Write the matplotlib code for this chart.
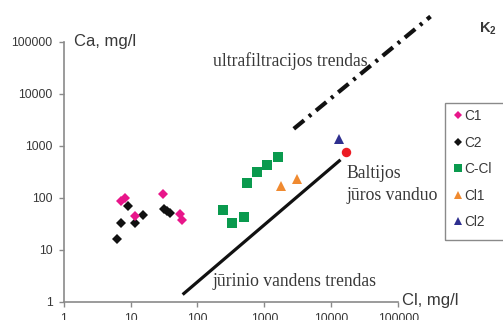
import numpy as np
import matplotlib
matplotlib.use('Agg')
import matplotlib.pyplot as plt
from matplotlib.lines import Line2D
from matplotlib.patches import Rectangle

W, H = 503, 320

# data (Cl, Ca in mg/l)
c1_cl = [7.3, 8.2, 11.6, 30.8, 55.7, 59.1]
c1_ca = [87, 99, 45, 118, 49, 37]
c2_cl = [6.3, 7.3, 9.1, 11.6, 15.5, 31.4, 35.0, 38.6]
c2_ca = [16, 33, 68, 33, 47, 61, 55, 50]
ccl_cl = [242, 322, 491, 552, 760, 1097, 1580]
ccl_ca = [58, 33, 42, 188, 307, 425, 596]
cl1_cl = [1775, 3078]
cl1_ca = [163, 222]
cl2_cl = [13030]
cl2_ca = [1345]
baltic_cl = [16180]
baltic_ca = [743]

marine_cl = [60, 13630]
marine_ca = [1.36, 531]
ultra_cl = [2736, 300600]
ultra_ca = [2095, 302700]

ticks = [1, 10, 100, 1000, 10000, 100000]
tick_labels = ['1', '10', '100', '1000', '10000', '100000']

C_PINK = '#e8168a'
C_BLACK = '#111111'
C_GREEN = '#0a9a4e'
C_ORANGE = '#f08a30'
C_NAVY = '#2e2f8f'
C_RED = '#ec1c24'
TXT = '#383838'
SANS = 'Liberation Sans'
SERIF = 'Liberation Serif'

# pixel layout of the reference
X0, XDEC = 63.5, 67.0
Y0, YDEC = 301.5, 52.0


def fp(x, y):
    return x / W, 1 - y / H


fig = plt.figure(figsize=(W / 100, H / 100), dpi=100)
ax = fig.add_axes([X0 / W, (H - Y0) / H, (W - X0) / W, Y0 / H])
ax.set_xscale('log')
ax.set_yscale('log')
ax.set_xlim(1, 10 ** ((W - X0) / XDEC))
ax.set_ylim(1, 10 ** (Y0 / YDEC))
ax.patch.set_alpha(0)

for s in ['top', 'right']:
    ax.spines[s].set_visible(False)
for s in ['left', 'bottom']:
    ax.spines[s].set_color('#8a8a8a')
    ax.spines[s].set_linewidth(1.2)
    ax.spines[s].set_bounds(1, 100000)

ax.set_xticks(ticks)
ax.set_xticklabels(tick_labels)
ax.set_yticks(ticks)
ax.set_yticklabels(tick_labels)
ax.minorticks_off()
ax.tick_params(length=3.5, width=1, color='#8a8a8a', labelsize=8.8,
               labelcolor=TXT, pad=4.5)
for lab in ax.get_xticklabels() + ax.get_yticklabels():
    lab.set_fontfamily(SANS)

# trend lines
ax.plot(marine_cl, marine_ca, color=C_BLACK, lw=2.3, solid_capstyle='butt')
ax.plot(ultra_cl, ultra_ca, color=C_BLACK, lw=3, dash_capstyle='butt',
        linestyle=(0, (3.2, 1.5, 0.7, 1.5)))

# points
ax.plot(c2_cl, c2_ca, 'D', color=C_BLACK, ms=4.8, mew=0)
ax.plot(c1_cl, c1_ca, 'D', color=C_PINK, ms=4.8, mew=0)
ax.plot(ccl_cl, ccl_ca, 's', color=C_GREEN, ms=6.5, mew=0)
ax.plot(cl1_cl, cl1_ca, '^', color=C_ORANGE, ms=6.5, mew=0)
ax.plot(cl2_cl, cl2_ca, '^', color=C_NAVY, ms=6.5, mew=0)
ax.plot(baltic_cl, baltic_ca, 'o', color=C_RED, ms=6.8, mew=0)

# texts
fig.text(*fp(74, 46), 'Ca, mg/l', family=SANS, fontsize=12, color=TXT)
fig.text(*fp(401.5, 304.5), 'Cl, mg/l', family=SANS, fontsize=12, color=TXT)
fig.text(*fp(480, 31.5), 'K', family=SANS, fontsize=10.5, fontweight='bold', color=TXT)
fig.text(*fp(490, 34), '2', family=SANS, fontsize=7, fontweight='bold', color=TXT)
fig.text(*fp(213, 66), 'ultrafiltracijos trendas', family=SERIF, fontsize=12.7, color=TXT)
fig.text(*fp(346.5, 177.5), 'Baltijos', family=SERIF, fontsize=12.7, color=TXT)
fig.text(*fp(346.5, 199.5), 'jūros vanduo', family=SERIF, fontsize=12.7, color=TXT)
fig.text(*fp(212.5, 286.5), 'jūrinio vandens trendas', family=SERIF, fontsize=12.7, color=TXT)

# legend
fx, fy = fp(445, 240)
fig.patches.append(Rectangle((fx, fy), 80 / W, (240 - 102.7) / H, transform=fig.transFigure,
                             fill=False, edgecolor='#8a8a8a', lw=1))
handles = [
    Line2D([], [], ls='none', marker='D', color=C_PINK, ms=4.0, mew=0),
    Line2D([], [], ls='none', marker='D', color=C_BLACK, ms=4.0, mew=0),
    Line2D([], [], ls='none', marker='s', color=C_GREEN, ms=5.5, mew=0),
    Line2D([], [], ls='none', marker='^', color=C_ORANGE, ms=5.8, mew=0),
    Line2D([], [], ls='none', marker='^', color=C_NAVY, ms=5.8, mew=0),
]
labels = ['C1', 'C2', 'C-Cl', 'Cl1', 'Cl2']
leg = fig.legend(handles, labels, loc='upper left', bbox_to_anchor=fp(454, 109),
                 frameon=False, borderpad=0, borderaxespad=0, handlelength=0.6,
                 handletextpad=0.15, labelspacing=0.92,
                 prop={'family': SANS, 'size': 9.8})
for t in leg.get_texts():
    t.set_color(TXT)

fig.savefig('out.png', dpi=100)
